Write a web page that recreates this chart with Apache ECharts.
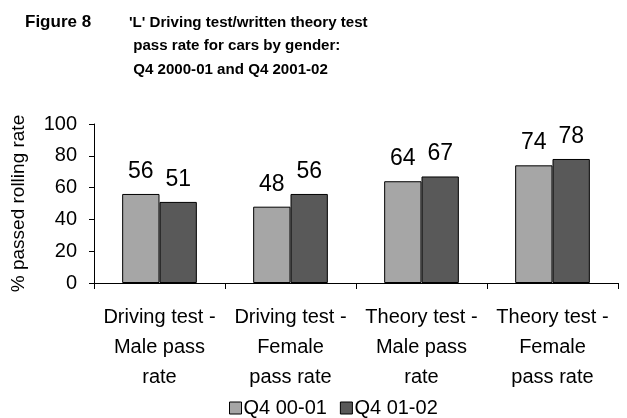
<!DOCTYPE html>
<html><head><meta charset="utf-8">
<script src="https://cdn.jsdelivr.net/npm/echarts@6/dist/echarts.min.js"></script>
<style>html,body{margin:0;padding:0;background:#fff}#c{width:627px;height:418px}</style>
</head><body><div id="c"></div>
<script>
const categories = ["Driving test -\nMale pass\nrate", "Driving test -\nFemale\npass rate", "Theory test -\nMale pass\nrate", "Theory test -\nFemale\npass rate"];
const seriesNames = ["Q4 00-01", "Q4 01-02"];
const q4_0001 = [56, 48, 64, 74];
const q4_0102 = [51, 56, 67, 78];
const yTicks = [0, 20, 40, 60, 80, 100];

const FONT = "Liberation Sans, Arial, sans-serif";
const chart = echarts.init(document.getElementById('c'), null, {renderer: 'canvas'});
const labelCfg = {show: true, position: 'top', distance: 11, fontSize: 23, color: '#000', fontFamily: FONT};
chart.setOption({
  animation: false,
  textStyle: {fontFamily: FONT},
  title: [
    {text: 'Figure 8', left: 25, top: 11, padding: 0, textStyle: {fontSize: 17, fontWeight: 'bold', color: '#000', lineHeight: 23.5, fontFamily: FONT}},
    {text: "'L' Driving test/written theory test\n pass rate for cars by gender:\n Q4 2000-01 and Q4 2001-02", left: 129, top: 11, padding: 0,
     textStyle: {fontSize: 15.1, fontWeight: 'bold', color: '#000', lineHeight: 23.5, fontFamily: FONT}}
  ],
  grid: {left: 94, right: 9, top: 124, bottom: 135, containLabel: false},
  legend: {
    bottom: 0, left: 224, padding: [3, 5, 0, 5], itemWidth: 12, itemHeight: 12, itemGap: 13,
    icon: 'rect',
    itemStyle: {borderColor: '#000', borderWidth: 1},
    textStyle: {fontSize: 20, color: '#000', padding: [0, 0, 0, -3]},
    data: seriesNames
  },
  xAxis: {
    type: 'category', data: categories,
    axisLine: {lineStyle: {color: '#000', width: 1}},
    axisTick: {show: true, length: 6, lineStyle: {color: '#000'}},
    axisLabel: {fontSize: 20, color: '#000', lineHeight: 30, margin: 19, interval: 0}
  },
  yAxis: {
    type: 'value', min: 0, max: 100, interval: 20,
    name: '% passed rolling rate', nameLocation: 'middle', nameGap: 66,
    nameTextStyle: {fontSize: 19, color: '#000'},
    axisLine: {show: true, lineStyle: {color: '#000'}},
    axisTick: {show: true, length: 5, lineStyle: {color: '#000'}},
    axisLabel: {fontSize: 20, color: '#000', margin: 17, formatter: v => yTicks.includes(v) ? String(v) : ''},
    splitLine: {show: false}
  },
  series: [
    {name: seriesNames[0], type: 'bar', data: q4_0001, barGap: '0%', barCategoryGap: '43%',
     itemStyle: {color: '#A6A6A6', borderColor: '#000', borderWidth: 1}, label: labelCfg},
    {name: seriesNames[1], type: 'bar', data: q4_0102,
     itemStyle: {color: '#595959', borderColor: '#000', borderWidth: 1}, label: labelCfg}
  ]
});
</script></body></html>
